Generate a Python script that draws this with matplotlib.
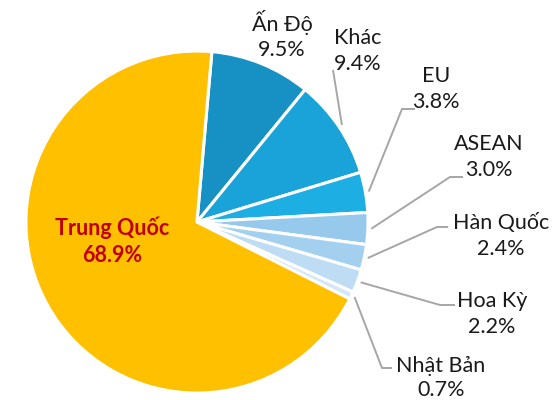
import numpy as np
import matplotlib
matplotlib.use("Agg")
import matplotlib.pyplot as plt

plt.rcParams['font.family'] = ['Lato', 'DejaVu Sans']

# ---- data ----
labels = ["Ấn Độ", "Khác", "EU", "ASEAN", "Hàn Quốc", "Hoa Kỳ", "Nhật Bản", "Trung Quốc"]
values = [9.5, 9.4, 3.8, 3.0, 2.4, 2.2, 0.7, 68.9]
colors = ["#1791C3", "#19A3D9", "#1DAEE3", "#97C9EC", "#A3D0EF", "#BEDDF4", "#D2E8F7", "#FFC000"]
explode = [0, 0, 0, 0, 0, 0, 0, 0.075]

# ---- layout (pixel coords, y from top) ----
W, H = 553, 400
cx, cy, R = 197, 222, 171
label_pos = {
    "Ấn Độ": (282, 35),
    "Khác": (358, 51),
    "EU": (436, 89),
    "ASEAN": (489, 157),
    "Hàn Quốc": (501, 236),
    "Hoa Kỳ": (492, 314),
    "Nhật Bản": (441, 378),
    "Trung Quốc": (112, 241),
}
leaders = {
    "Khác": [(333, 70)],
    "EU": [(415, 109), (402, 109)],
    "ASEAN": [(463, 177), (450, 177)],
    "Hàn Quốc": [(448, 227), (437, 227)],
    "Hoa Kỳ": [(455, 305), (440, 305)],
    "Nhật Bản": [(392, 368), (382, 368)],
}

fig = plt.figure(figsize=(W / 100, H / 100), dpi=100)
ax = fig.add_axes([0, 0, 1, 1])

wedges, _ = ax.pie(values, colors=colors, explode=explode, startangle=85,
                   counterclock=False, center=(cx, H - cy), radius=R,
                   wedgeprops=dict(edgecolor='white', linewidth=2.2))
ax.set_xlim(0, W)
ax.set_ylim(0, H)
ax.set_aspect('equal')
ax.axis('off')

fs = 15.5
for w, lab, v in zip(wedges, labels, values):
    lx, ly = label_pos[lab]
    ls = 1.3 if lab == "Nhật Bản" else 1.35
    if lab == "Trung Quốc":
        ax.text(lx, H - ly, f"{lab}\n{v:.1f}%", ha='center', va='center',
                fontsize=fs, fontweight='bold', color='#C00000', linespacing=ls)
        continue
    ax.text(lx, H - ly, f"{lab}\n{v:.1f}%", ha='center', va='center',
            fontsize=fs, color='#1a1a1a', linespacing=ls)
    if lab in leaders:
        ang = np.deg2rad((w.theta1 + w.theta2) / 2)
        px = w.center[0] + w.r * 1.02 * np.cos(ang)
        py = w.center[1] + w.r * 1.02 * np.sin(ang)
        pts = leaders[lab]
        xs = [p[0] for p in pts] + [px]
        ys = [H - p[1] for p in pts] + [py]
        ax.plot(xs, ys, color='#A6A6A6', lw=1.4, solid_capstyle='butt', zorder=0.5)

fig.savefig("out.png", dpi=100)
